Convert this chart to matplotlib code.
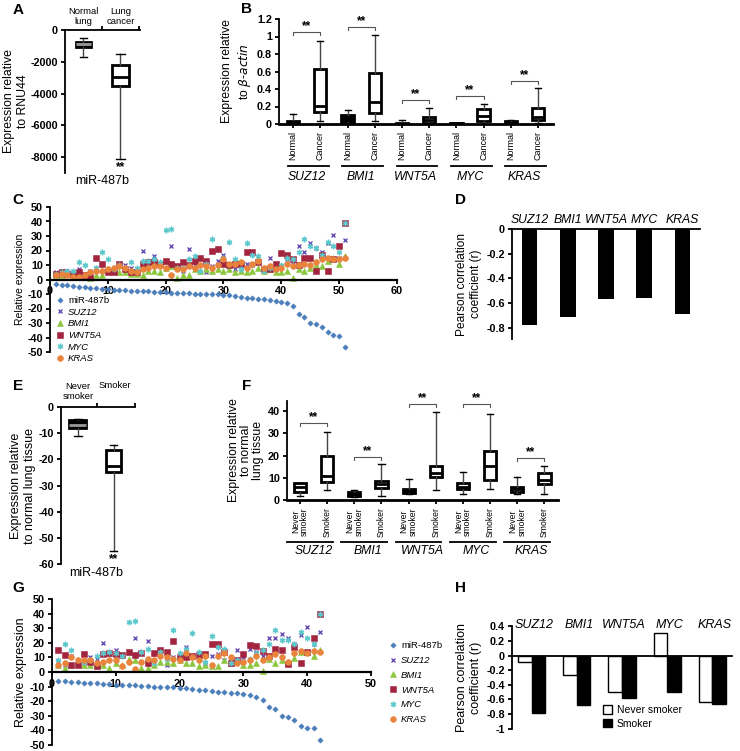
import numpy as np
import matplotlib
matplotlib.use('Agg')
import matplotlib.pyplot as plt
import matplotlib.transforms as mtransforms
from matplotlib.patches import Patch

plt.rcParams['font.family'] = ['Liberation Sans', 'DejaVu Sans']
plt.rcParams['axes.linewidth'] = 1.3
plt.rcParams['xtick.major.width'] = 1.3
plt.rcParams['ytick.major.width'] = 1.3
plt.rcParams['xtick.major.size'] = 3
plt.rcParams['ytick.major.size'] = 3
plt.rcParams['xtick.major.pad'] = 2
plt.rcParams['ytick.major.pad'] = 2

# ---- data ----
genes = ['SUZ12', 'BMI1', 'WNT5A', 'MYC', 'KRAS']

# A: miR-487b, (whislo, q1, med, q3, whishi)
a_normal = [-1700, -1100, -900, -750, -500]
a_cancer = [-8100, -3500, -2950, -2200, -1500]

# B: expression relative to beta-actin
b_normal = [[0, 0.0, 0.02, 0.04, 0.11],
            [0, 0.02, 0.07, 0.10, 0.16],
            [0, 0.0, 0.005, 0.015, 0.05],
            [0, 0.003, 0.006, 0.01, 0.015],
            [0, 0.0, 0.015, 0.03, 0.05]]
b_cancer = [[0.04, 0.14, 0.21, 0.63, 0.95],
            [0.03, 0.13, 0.25, 0.58, 1.02],
            [0, 0.01, 0.05, 0.08, 0.18],
            [0, 0.03, 0.09, 0.17, 0.23],
            [0.01, 0.05, 0.08, 0.18, 0.41]]
b_sig = [1.05, 1.11, 0.27, 0.32, 0.49]

# C: relative expression, 51 samples
c_mir = [-3, -3.5, -4, -4.5, -5, -5.3, -5.6, -6, -6.3, -6.7,
         -7, -7.2, -7.4, -7.6, -7.8, -8, -8.2, -8.4, -8.5, -8.7,
         -9, -9.2, -9.4, -9.6, -9.8, -10, -10.1, -10.2, -10.3, -10.5,
         -11, -11.5, -12, -12.5, -13, -13.2, -13.5, -14, -14.5, -15.2,
         -16.5, -18.5, -23.5, -26, -30, -31, -33, -36.5, -38.5, -38.7, -46.5]
c_suz12 = [5, 6, 6, 5, 7, 3, 6, 8, 6, 5, 8, 9, 10, 8, 7, 20, 13, 16, 11, 12,
           23, 9, 6, 21, 10, 15, 5, 9, 13, 17, 11, 7, 6, 11, 10, 12, 6, 15, 8, 9,
           14, 11, 23, 19, 25, 22, 19, 25, 31, 15, 27]
c_bmi1 = [3, 3, 4, 4, 2, 3, 1, 3, 3, 7, 6, 5, 5, 4, 4, 3, 6, 6, 5, 8,
          9, 1, 3, 3, 7, 6, 7, 6, 7, 6, 7, 5, 6, 5, 6, 8, 6, 7, 5, 5,
          6, 1, 7, 6, 8, 10, 9, 13, 15, 11, 16]
c_wnt5a = [4, 5, 4, 3, 5, 3, 2, 15, 11, 5, 5, 11, 7, 5, 5, 11, 12, 12, 11, 13,
           11, 9, 12, 10, 13, 15, 13, 20, 21, 11, 10, 11, 11, 19, 19, 12, 7, 7, 11, 18,
           17, 14, 10, 15, 15, 6, 17, 6, 14, 23, 39]
c_myc = [4, 5, 6, 6, 12, 10, 5, 8, 19, 14, 7, 10, 8, 12, 8, 13, 13, 14, 12, 34,
         35, 8, 8, 14, 16, 6, 11, 28, 10, 15, 26, 14, 7, 25, 17, 16, 6, 8, 7, 10,
         15, 14, 19, 28, 23, 22, 17, 26, 23, 19, 39]
c_kras = [3, 4, 3, 2, 2, 3, 5, 6, 6, 7, 8, 9, 8, 6, 5, 7, 8, 9, 9, 8,
          3, 7, 7, 9, 8, 10, 9, 8, 10, 14, 11, 11, 12, 8, 11, 13, 8, 9, 7, 8,
          11, 9, 10, 11, 10, 12, 14, 15, 14, 14, 15]

# D: Pearson r
d_r = [-0.78, -0.71, -0.57, -0.555, -0.69]

# E: miR-487b vs smoking
e_never = [-11, -8, -7, -5, -4.5]
e_smoker = [-55, -25, -22.5, -16.5, -14.5]

# F: expression relative to normal lung tissue
f_never = [[2, 3.5, 6, 7.5, 7.8],
           [1.5, 2, 2.7, 3.5, 4.5],
           [2.5, 3, 4, 5, 9.5],
           [2.5, 5, 6, 7.5, 12.5],
           [2.5, 3.5, 5, 6, 10.5]]
f_smoker = [[4.5, 8, 11, 20, 30.5],
            [2, 5.5, 7, 8.5, 16],
            [4.5, 10.5, 12, 15.5, 39.5],
            [5, 9, 15.5, 22, 38.5],
            [2.5, 7, 9, 12, 15.5]]
f_sig = [34.5, 19.3, 43, 43, 19]

# G: relative expression, 42 smokers
g_mir = [-6, -6.3, -6.6, -6.9, -7.2, -7.4, -7.7, -8, -8.3, -8.6,
         -8.8, -9, -9.2, -9.5, -9.8, -10, -10.2, -10.4, -10.6, -10.8,
         -11, -11.5, -12, -12.5, -13, -13.5, -13.8, -14.2, -14.7, -15.3,
         -16, -17.4, -19.2, -23.7, -25.3, -30, -31, -33, -37, -38.6, -38.6, -46.6]
g_suz12 = [7, 5, 11, 8, 6, 10, 9, 20, 12, 15, 11, 13, 23, 13, 21, 12, 14, 5, 10, 12,
           17, 10, 9, 6, 11, 12, 8, 8, 15, 10, 16, 14, 11, 23, 23, 25.7, 23, 19, 25.3, 31,
           19, 27.6]
g_bmi1 = [5, 2.8, 5, 7, 5, 5, 6, 5, 2.8, 6, 5, 9, 8.5, 3, 3, 5, 7, 7, 6, 8,
          6, 6, 4, 5, 4, 4, 8, 6, 8, 5, 5, 6, 1, 9, 6, 8, 7, 9.5, 14, 14,
          10.8, 15]
g_wnt5a = [15.4, 11.5, 4.5, 5, 12, 7, 4, 12, 13, 12.6, 11.5, 14, 11.5, 13.3, 6, 13, 15.4, 13.8, 21, 10,
           10, 11, 11.5, 12.6, 19.5, 19.5, 13.8, 6, 8, 12, 18.4, 17.7, 14.2, 10.8, 15.6, 15, 5.7, 16.8, 6, 14,
           23.4, 39.7]
g_myc = [8, 19.5, 15, 8, 7, 8, 11, 13, 14, 13, 11, 34.5, 35, 14, 16, 6, 14, 9, 28.7, 13,
         16, 26.4, 14, 7, 25, 17, 16, 6, 8, 7, 9, 13, 15, 19, 28.7, 22, 22, 19, 27.6, 23,
         19, 39.7]
g_kras = [5, 6, 10, 8, 8, 8, 6, 7, 8.5, 8.5, 4, 7, 2, 7, 9, 8, 11, 10, 9, 8,
          13, 10, 8, 11, 4.5, 11, 13, 10, 6, 7, 8, 11, 8, 10, 12, 10, 7, 13, 14.5, 13,
          14.5, 14]

# H: Pearson r by smoking status
h_never = [-0.09, -0.26, -0.5, 0.31, -0.63]
h_smoker = [-0.78, -0.68, -0.58, -0.5, -0.66]

series_names = ['miR-487b', 'SUZ12', 'BMI1', 'WNT5A', 'MYC', 'KRAS']
series_markers = ['D', 'x', '^', 's', (6, 2, 0), 'o']
series_colors = ['#4a7ebb', '#6a4fb5', '#8cc63f', '#a3243f', '#5cc8cc', '#e8843c']
series_ms = [2.7, 3.5, 3.8, 4, 4, 4.2]

# ---- figure ----
W, H = 740, 751
fig = plt.figure(figsize=(7.4, 7.51), dpi=100)
TICK = dict(fontweight='bold', fontsize=7.8)


def add_ax(x0, y0, x1, y1):
    return fig.add_axes([x0 / W, 1 - y1 / H, (x1 - x0) / W, (y1 - y0) / H])


def yticks(ax, vals):
    ax.set_yticks(vals, [f'{v:g}' for v in vals], **TICK)


def stats(rows):
    return [dict(whislo=a, q1=b, med=c, q3=d, whishi=e, fliers=[]) for a, b, c, d, e in rows]


def boxes(ax, rows, pos, width, fill='white', medc='black'):
    ax.bxp(stats(rows), positions=pos, widths=width, patch_artist=True, showfliers=False,
           boxprops=dict(facecolor=fill, edgecolor='black', lw=2),
           medianprops=dict(color=medc, lw=2),
           whiskerprops=dict(color='#444444', lw=1),
           capprops=dict(color='black', lw=1), manage_ticks=False)


def sig(ax, x0, x1, y, h):
    ax.plot([x0, x0, x1, x1], [y - h, y, y, y - h], color='#555555', lw=0.8)
    ax.text((x0 + x1) / 2, y, '**', ha='center', va='bottom', fontsize=8.5, fontweight='bold')


def group_lines(ax, pos, yline, ytext, lo, hi):
    tr = mtransforms.blended_transform_factory(ax.transData, ax.transAxes)
    for p, g in zip(pos, genes):
        ax.plot([p + lo, p + hi], [yline, yline], color='black', lw=1.3, transform=tr, clip_on=False)
        ax.text(p + 0.5, ytext, g, transform=tr, ha='center', va='center',
                fontsize=8.8, style='italic')


def scatter_panel(ax, data, x, ylab_size):
    for name, vals, m, col, ms in zip(series_names, data, series_markers, series_colors, series_ms):
        mew = 1.0 if m in ('x', (6, 2, 0)) else 0.4
        ax.plot(x, vals, ls='none', marker=m, color=col, ms=ms, mew=mew, label=name)
    ax.spines['bottom'].set_position(('data', 0))
    ax.spines['top'].set_visible(False)
    ax.spines['right'].set_visible(False)
    ax.spines['bottom'].set_linewidth(1.6)
    yticks(ax, [50, 40, 30, 20, 10, 0, -10, -20, -30, -40, -50])
    ax.set_ylim(-50, 50)
    ax.set_ylabel('Relative expression', fontsize=ylab_size, labelpad=2)


def style_legend(leg):
    for t in leg.get_texts()[1:]:
        t.set_fontstyle('italic')


# ---- A ----
ax = add_ax(65, 30, 140, 173)
boxes(ax, [a_normal], [1], 0.42, fill='black', medc='#999999')
boxes(ax, [a_cancer], [2], 0.45)
ax.set_xlim(0.5, 2.53)
ax.set_ylim(-9000, 0)
ax.xaxis.tick_top()
ax.set_xticks([1.5, 2.5], ['', ''])
for s in ['bottom', 'right']:
    ax.spines[s].set_visible(False)
yticks(ax, [0, -2000, -4000, -6000, -8000])
ax.set_ylabel('Expression relative\nto RNU44', fontsize=8.8, labelpad=1)
tr = mtransforms.blended_transform_factory(ax.transData, ax.transAxes)
for p, lab in zip([1, 2], ['Normal\nlung', 'Lung\ncancer']):
    ax.text(p, 1.03, lab, transform=tr, ha='center', va='bottom', fontsize=6.8, linespacing=1.1)
ax.text(2, -8250, '**', ha='center', va='top', fontsize=8.5, fontweight='bold')
ax.text(1.5, -0.055, 'miR-487b', transform=tr, ha='center', va='center', fontsize=9)

# ---- B ----
ax = add_ax(279, 19, 553, 124)
pos_n = np.arange(5) * 2
pos_c = pos_n + 1
boxes(ax, b_normal, pos_n, 0.45, fill='black', medc='black')
boxes(ax, b_cancer, pos_c, 0.45)
ax.set_xlim(-0.52, 9.55)
ax.set_ylim(0, 1.2)
ax.spines['top'].set_visible(False)
ax.spines['right'].set_visible(False)
ax.spines['bottom'].set_linewidth(2)
yticks(ax, [0, 0.2, 0.4, 0.6, 0.8, 1, 1.2])
ticks = np.sort(np.concatenate([pos_n, pos_c]))
ax.set_xticks(ticks, ['Normal', 'Cancer'] * 5, rotation=90, fontsize=6.5)
for n, c, y in zip(pos_n, pos_c, b_sig):
    sig(ax, n, c, y, 0.035)
group_lines(ax, pos_n, -0.40, -0.50, -0.2, 1.3)
ax.set_ylabel('Expression relative\nto $\\beta$-$\\mathit{actin}$', fontsize=8.8, labelpad=3)

# ---- C ----
ax = add_ax(50, 207, 397, 352)
scatter_panel(ax, [c_mir, c_suz12, c_bmi1, c_wnt5a, c_myc, c_kras], np.arange(1, 52), 7.5)
ax.set_xlim(0, 60)
ax.set_xticks(range(0, 61, 10), [str(v) for v in range(0, 61, 10)], **TICK)
leg = ax.legend(loc='upper left', bbox_to_anchor=(54 / W, 1 - 296 / H), bbox_transform=fig.transFigure,
                frameon=False, fontsize=6.8, labelspacing=0.28, handletextpad=0.3, handlelength=1.2,
                borderaxespad=0, borderpad=0)
style_legend(leg)

# ---- D ----
ax = add_ax(512, 229, 700, 339)
ax.bar(np.arange(5), d_r, width=0.4, color='black')
ax.set_xlim(-0.47, 4.47)
ax.set_ylim(-0.89, 0)
ax.spines['bottom'].set_visible(False)
ax.spines['right'].set_visible(False)
ax.set_xticks([])
yticks(ax, [0, -0.2, -0.4, -0.6, -0.8])
for i, g in enumerate(genes):
    ax.text(i, 1.03, g, transform=mtransforms.blended_transform_factory(ax.transData, ax.transAxes),
            ha='center', va='bottom', fontsize=8.8, style='italic')
ax.set_ylabel('Pearson correlation\ncoefficient (r)', fontsize=8.6, labelpad=3)

# ---- E ----
ax = add_ax(61, 407, 135, 564)
boxes(ax, [e_never], [1], 0.47, fill='black', medc='#999999')
boxes(ax, [e_smoker], [2], 0.4)
ax.set_xlim(0.53, 2.6)
ax.set_ylim(-60, 0)
ax.xaxis.tick_top()
ax.set_xticks([1.53, 2.6], ['', ''])
for s in ['bottom', 'right']:
    ax.spines[s].set_visible(False)
yticks(ax, [0, -10, -20, -30, -40, -50, -60])
ax.set_ylabel('Expression relative\nto normal lung tissue', fontsize=9, labelpad=2)
tr = mtransforms.blended_transform_factory(ax.transData, ax.transAxes)
ax.text(1, 1.04, 'Never\nsmoker', transform=tr, ha='center', va='bottom', fontsize=6.8, linespacing=1.1)
ax.text(2.05, 1.11, 'Smoker', transform=tr, ha='center', va='bottom', fontsize=6.8)
ax.text(2, -55.8, '**', ha='center', va='top', fontsize=8.5, fontweight='bold')
ax.text(1.5, -0.055, 'miR-487b', transform=tr, ha='center', va='center', fontsize=9)

# ---- F ----
ax = add_ax(287, 401, 558, 500)
pos_n = np.arange(5) * 2
pos_s = pos_n + 1
boxes(ax, f_never, pos_n, 0.45)
boxes(ax, f_smoker, pos_s, 0.45)
ax.set_xlim(-0.48, 9.5)
ax.set_ylim(0, 44.5)
ax.spines['top'].set_visible(False)
ax.spines['right'].set_visible(False)
ax.spines['bottom'].set_linewidth(2)
yticks(ax, [0, 10, 20, 30, 40])
ticks = np.sort(np.concatenate([pos_n, pos_s]))
ax.set_xticks(ticks, ['Never\nsmoker', 'Smoker'] * 5, rotation=90, fontsize=6.2, linespacing=1.0)
for n, s_, y in zip(pos_n, pos_s, f_sig):
    sig(ax, n, s_, y, 1.3)
group_lines(ax, pos_n, -0.424, -0.515, -0.48, 1.2)
ax.set_ylabel('Expression relative\nto normal\nlung tissue', fontsize=8.8, labelpad=3, linespacing=1.0)

# ---- G ----
ax = add_ax(52, 599, 371, 745)
scatter_panel(ax, [g_mir, g_suz12, g_bmi1, g_wnt5a, g_myc, g_kras], np.arange(1, 43), 9)
ax.set_xlim(0, 50)
ax.set_xticks(range(0, 51, 10), [str(v) for v in range(0, 51, 10)], **TICK)
leg = ax.legend(loc='upper left', bbox_to_anchor=(387 / W, 1 - 641 / H), bbox_transform=fig.transFigure,
                frameon=False, fontsize=6.8, labelspacing=0.62, handletextpad=0.3, handlelength=1.2,
                borderaxespad=0, borderpad=0)
style_legend(leg)

# ---- H ----
ax = add_ax(512, 625, 732, 730)
xh = np.arange(5)
ax.bar(xh - 0.15, h_never, width=0.3, color='white', edgecolor='black', lw=1)
ax.bar(xh + 0.15, h_smoker, width=0.3, color='black', edgecolor='black', lw=1)
ax.set_xlim(-0.44, 4.44)
ax.set_ylim(-1.02, 0.42)
ax.spines['bottom'].set_position(('data', 0))
ax.spines['bottom'].set_linewidth(1.3)
ax.spines['top'].set_visible(False)
ax.spines['right'].set_visible(False)
ax.spines['left'].set_bounds(-1, 0.4)
ax.set_xticks([])
yticks(ax, [0.4, 0.2, 0, -0.2, -0.4, -0.6, -0.8, -1])
for i, g in enumerate(genes):
    ax.text(i + 0.05, 1.0, g, transform=mtransforms.blended_transform_factory(ax.transData, ax.transAxes),
            ha='center', va='center', fontsize=9, style='italic')
ax.set_ylabel('Pearson correlation\ncoefficient (r)', fontsize=9, labelpad=3)
ax.legend(handles=[Patch(facecolor='white', edgecolor='black', label='Never smoker'),
                   Patch(facecolor='black', edgecolor='black', label='Smoker')],
          loc='upper left', bbox_to_anchor=(603 / W, 1 - 705 / H), bbox_transform=fig.transFigure,
          frameon=False, fontsize=7.5, handlelength=0.9, handleheight=0.9, handletextpad=0.4,
          labelspacing=0.35, borderaxespad=0, borderpad=0)

# ---- panel letters ----
for lab, x, y in [('A', 18, 10), ('B', 247, 9), ('C', 18, 200), ('D', 460, 200),
                  ('E', 18, 386), ('F', 247, 386), ('G', 18, 588), ('H', 460, 588)]:
    fig.text(x / W, 1 - y / H, lab, ha='center', va='center', fontsize=11, fontweight='bold')

fig.savefig('out.png', dpi=100)
